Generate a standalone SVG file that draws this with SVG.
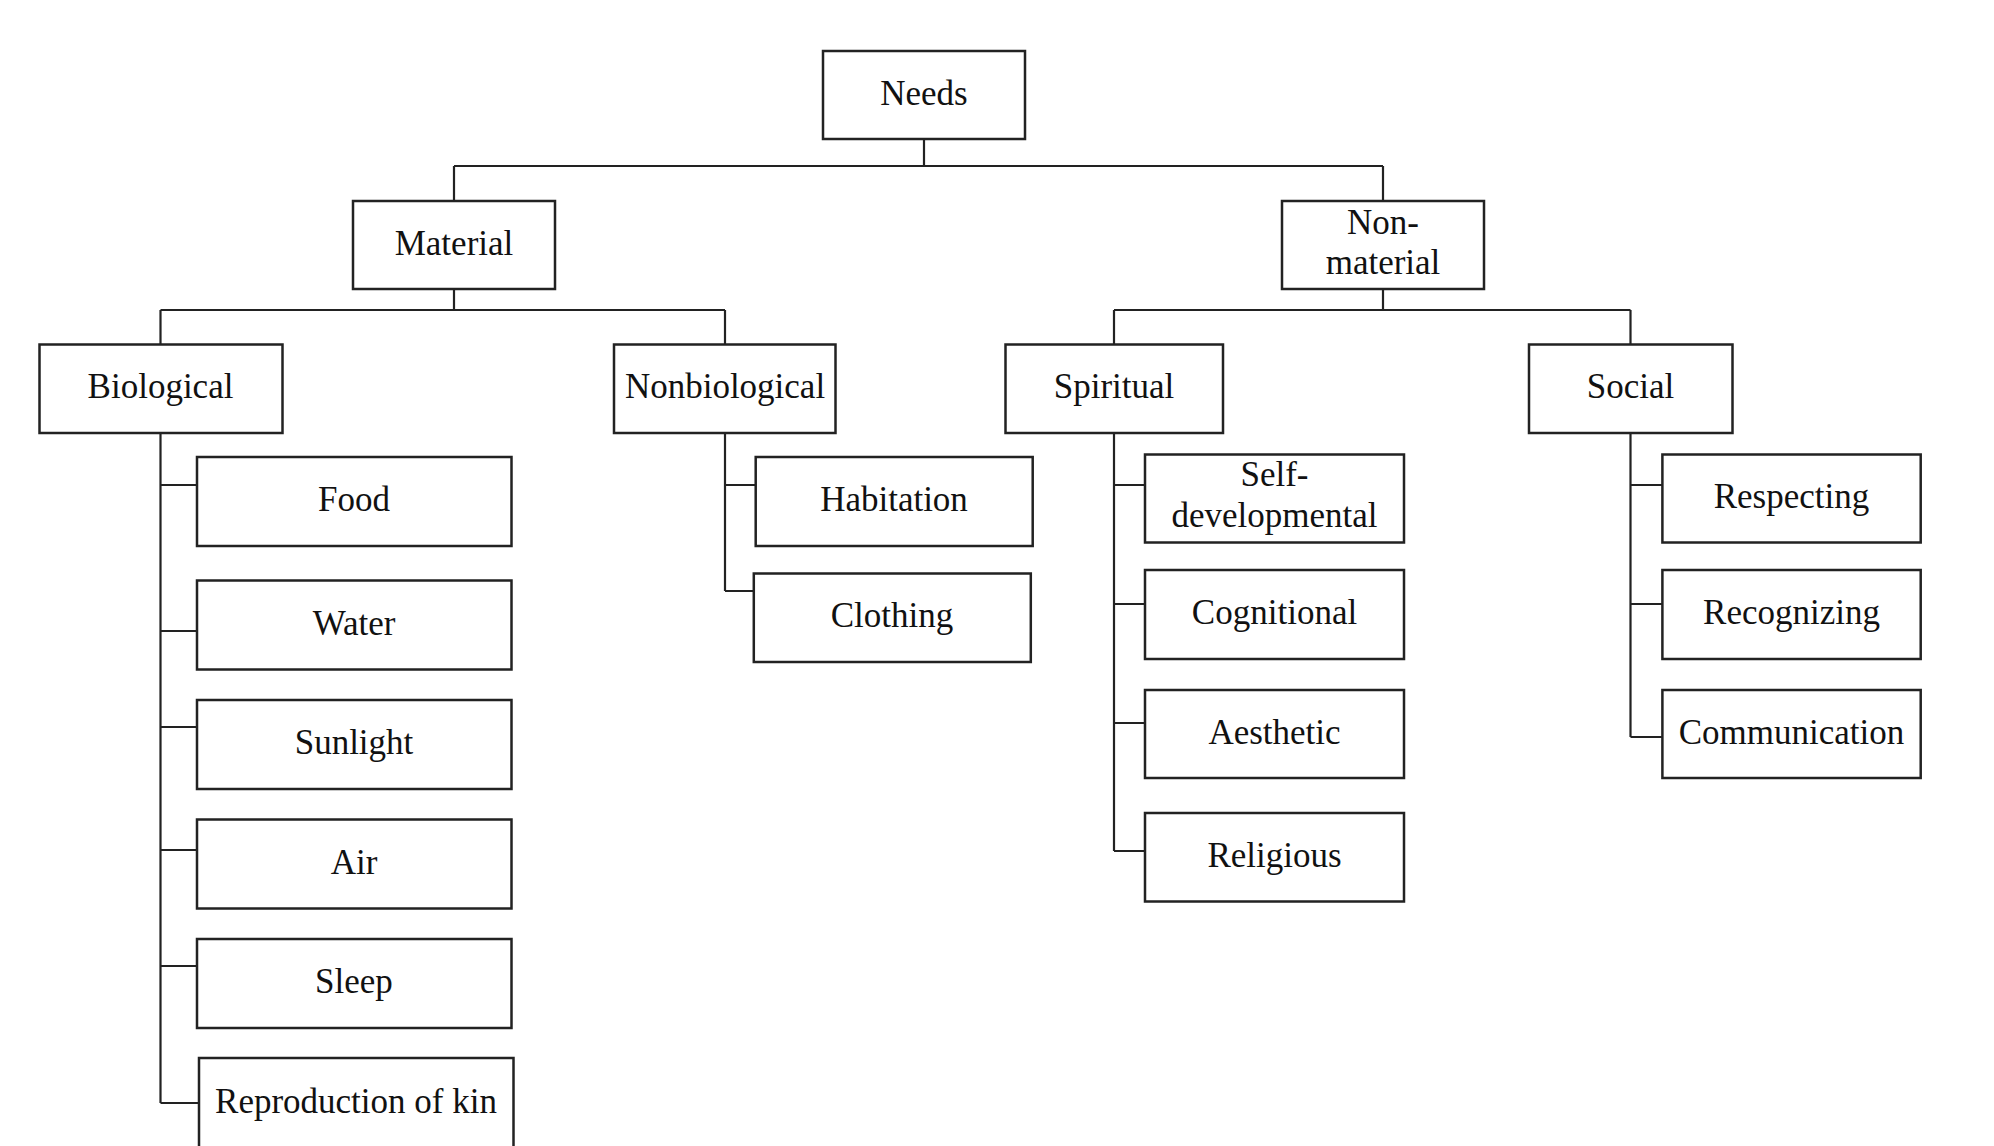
<svg xmlns="http://www.w3.org/2000/svg" width="1994" height="1146" viewBox="0 0 1994 1146">
<style>
.b{fill:#fff;stroke:#222;stroke-width:2.5}
.t{font-family:"Liberation Serif","Times New Roman",serif;font-size:35px;fill:#111;text-anchor:middle}
.c{fill:none;stroke:#222;stroke-width:2.2}
</style>
<rect width="1994" height="1146" fill="#fff"/>
<g id="connectors">
<path class="c" d="M924 139V166M454 166H1383M454 166V201M1383 166V201"/>
<path class="c" d="M454 289V310M160.5 310H725M160.5 310V344.5M725 310V344.5"/>
<path class="c" d="M1383 289V310M1114 310H1630.5M1114 310V344.5M1630.5 310V344.5"/>
<path class="c" d="M160.5 433V1103M160.5 485H197M160.5 631H197M160.5 727H197M160.5 850H197M160.5 966H197M160.5 1103H199"/>
<path class="c" d="M725 433V591M725 485H755.7M725 591H753.8"/>
<path class="c" d="M1114 433V851M1114 485H1145M1114 604H1145M1114 723H1145M1114 851H1145"/>
<path class="c" d="M1630.5 433V737M1630.5 485H1662.4M1630.5 604H1662.4M1630.5 737H1662.4"/>
</g>
<g id="needs"><rect class="b" x="823" y="51" width="202" height="88"/><text class="t" x="924" y="104.5">Needs</text></g>
<g id="material"><rect class="b" x="353" y="201" width="202" height="88"/><text class="t" x="454" y="254.5">Material</text></g>
<g id="nonmaterial"><rect class="b" x="1282" y="201" width="202" height="88"/><text class="t" x="1383" y="234">Non-</text><text class="t" x="1383" y="274">material</text></g>
<g id="biological"><rect class="b" x="39.5" y="344.5" width="243" height="88.5"/><text class="t" x="160.5" y="398">Biological</text></g>
<g id="nonbiological"><rect class="b" x="614" y="344.5" width="221.5" height="88.5"/><text class="t" x="725" y="398">Nonbiological</text></g>
<g id="spiritual"><rect class="b" x="1005.5" y="344.5" width="217.5" height="88.5"/><text class="t" x="1114" y="398">Spiritual</text></g>
<g id="social"><rect class="b" x="1529" y="344.5" width="203.5" height="88.5"/><text class="t" x="1630.5" y="398">Social</text></g>
<g id="food"><rect class="b" x="197" y="457" width="314.5" height="89"/><text class="t" x="354" y="511">Food</text></g>
<g id="water"><rect class="b" x="197" y="580.5" width="314.5" height="89"/><text class="t" x="354" y="634.5">Water</text></g>
<g id="sunlight"><rect class="b" x="197" y="700" width="314.5" height="89"/><text class="t" x="354" y="754">Sunlight</text></g>
<g id="air"><rect class="b" x="197" y="819.5" width="314.5" height="89"/><text class="t" x="354" y="873.5">Air</text></g>
<g id="sleep"><rect class="b" x="197" y="939" width="314.5" height="89"/><text class="t" x="354" y="993">Sleep</text></g>
<g id="reproduction"><rect class="b" x="199" y="1058" width="314.5" height="100"/><text class="t" x="356" y="1113">Reproduction of kin</text></g>
<g id="habitation"><rect class="b" x="755.7" y="457" width="277" height="89"/><text class="t" x="894" y="511">Habitation</text></g>
<g id="clothing"><rect class="b" x="753.8" y="573.5" width="277" height="88.5"/><text class="t" x="892" y="627">Clothing</text></g>
<g id="selfdev"><rect class="b" x="1145" y="454.5" width="259" height="88"/><text class="t" x="1274.5" y="486">Self-</text><text class="t" x="1274.5" y="526.5">developmental</text></g>
<g id="cognitional"><rect class="b" x="1145" y="570" width="259" height="89"/><text class="t" x="1274.5" y="624">Cognitional</text></g>
<g id="aesthetic"><rect class="b" x="1145" y="690" width="259" height="88"/><text class="t" x="1274.5" y="743.5">Aesthetic</text></g>
<g id="religious"><rect class="b" x="1145" y="813" width="259" height="88.5"/><text class="t" x="1274.5" y="866.5">Religious</text></g>
<g id="respecting"><rect class="b" x="1662.4" y="454.5" width="258.3" height="88"/><text class="t" x="1791.5" y="508">Respecting</text></g>
<g id="recognizing"><rect class="b" x="1662.4" y="570" width="258.3" height="89"/><text class="t" x="1791.5" y="624">Recognizing</text></g>
<g id="communication"><rect class="b" x="1662.4" y="690" width="258.3" height="88"/><text class="t" x="1791.5" y="743.5">Communication</text></g>
</svg>
